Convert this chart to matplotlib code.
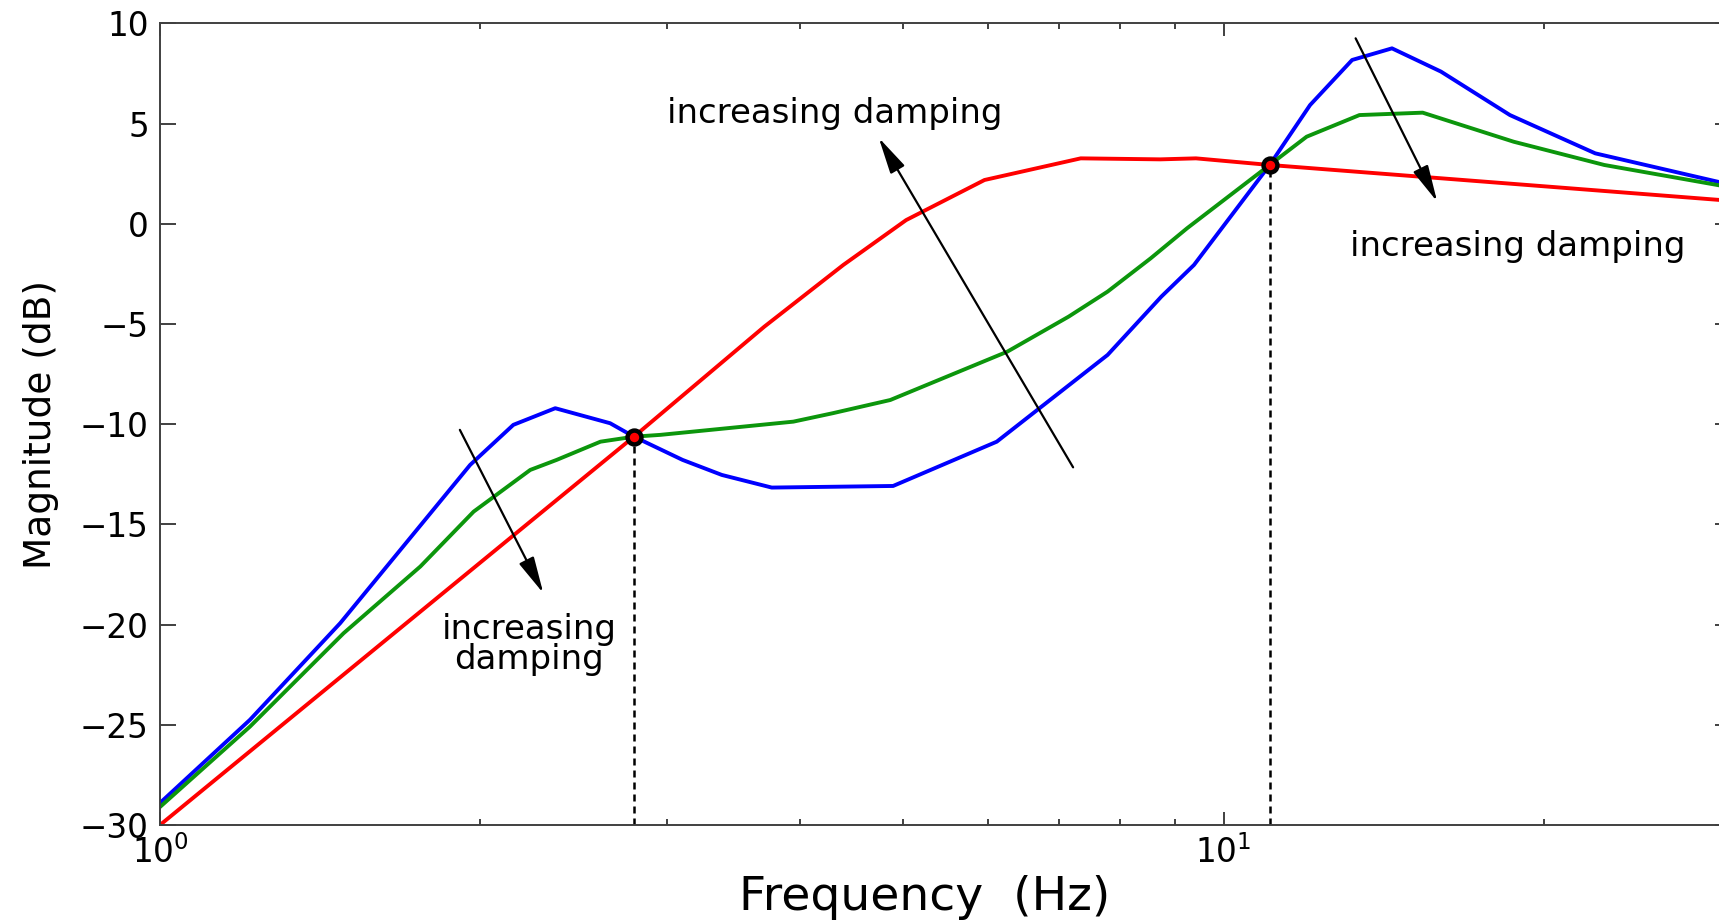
import matplotlib

matplotlib.use("Agg")
import matplotlib.pyplot as plt
from matplotlib.ticker import LogLocator, NullFormatter

# frequency response (Hz, dB)
blue_f = [1.0, 1.215, 1.477, 1.957, 2.149, 2.353, 2.65, 2.79, 3.10, 3.375, 3.76,
          4.89, 6.12, 7.78, 8.74, 9.38, 11.05, 12.06, 13.21, 14.40, 16.01, 18.59,
          22.36, 30.0]
blue_db = [-28.9, -24.75, -19.93, -12.03, -10.03, -9.2, -9.95, -10.62, -11.78, -12.53,
           -13.16, -13.08, -10.87, -6.54, -3.63, -2.05, 2.94, 5.93, 8.18, 8.76, 7.6,
           5.43, 3.52, 1.95]

green_f = [1.0, 1.215, 1.488, 1.757, 1.972, 2.229, 2.36, 2.595, 2.79, 2.954, 3.94,
           4.29, 4.86, 6.26, 7.15, 7.78, 8.54, 9.24, 11.05, 11.97, 13.42, 15.39, 18.74,
           22.8, 30.0]
green_db = [-29.1, -25.09, -20.43, -17.1, -14.36, -12.28, -11.78, -10.87, -10.62,
            -10.53, -9.87, -9.45, -8.79, -6.38, -4.63, -3.38, -1.72, -0.22, 2.94, 4.35,
            5.43, 5.55, 4.1, 2.94, 1.82]

red_f = [1.0, 2.79, 3.70, 4.39, 5.03, 5.96, 7.34, 8.72, 9.42, 11.05, 30.0]
red_db = [-30.0, -10.62, -5.13, -2.05, 0.19, 2.19, 3.27, 3.22, 3.27, 2.94, 1.15]

# crossing points of the three curves
cross_f = [2.79, 11.05]
cross_db = [-10.62, 2.94]

# arrows: (tail, head) in data coords
arrows = [((1.914, -10.28), (2.293, -18.43)),
          ((7.22, -12.15), (4.74, 4.3)),
          ((13.31, 9.26), (15.88, 1.11))]
labels = ["increasing\ndamping", "increasing damping", "increasing damping"]
label_pos = [(2.225, -21.0), (4.31, 5.5), (18.9, -1.15)]

y_ticks = [-30, -25, -20, -15, -10, -5, 0, 5, 10]

fig = plt.figure(figsize=(17.19, 9.21), dpi=100)
ax = fig.add_axes([160 / 1719, 1 - 825 / 921, 1571 / 1719, 801.5 / 921])

ax.plot(blue_f, blue_db, color="#0000ff", lw=2.8)
ax.plot(green_f, green_db, color="#0c960c", lw=2.8)
ax.plot(red_f, red_db, color="#ff0000", lw=2.8)

for fx, dbx in zip(cross_f, cross_db):
    ax.plot([fx, fx], [-30, dbx], color="k", lw=1.8, ls="--", dashes=(2.8, 2))
ax.plot(cross_f, cross_db, "o", ms=10, mfc="#ff0000", mec="k", mew=3.2, zorder=5)

for (tail, head) in arrows:
    ax.annotate("", xy=head, xytext=tail,
                arrowprops=dict(arrowstyle="-|>,head_length=0.9,head_width=0.2",
                                mutation_scale=25, color="k", lw=1.6,
                                shrinkA=0, shrinkB=0))

for txt, (tx, ty) in zip(labels, label_pos):
    ax.text(tx, ty, txt, fontsize=24.5, ha="center", va="center",
            linespacing=0.9, multialignment="center")

ax.set_xscale("log")
ax.set_xlim(1, 30)
ax.set_ylim(-30, 10)
ax.set_yticks(y_ticks)
ax.xaxis.set_major_locator(LogLocator(base=10))
ax.xaxis.set_minor_locator(LogLocator(base=10, subs=range(2, 10)))
ax.xaxis.set_minor_formatter(NullFormatter())

for sp in ax.spines.values():
    sp.set_color("#404040")
    sp.set_linewidth(1.4)

ax.tick_params(axis="both", which="both", direction="in", top=True, right=True,
               color="#404040", width=1.4)
ax.tick_params(axis="y", which="major", length=11.3, labelsize=23.5, pad=8)
ax.tick_params(axis="x", which="major", length=9.1, labelsize=23.5, pad=7)
ax.tick_params(axis="x", which="minor", length=4.3)

ax.set_xlabel("Frequency  (Hz)", fontsize=34, va="top")
ax.xaxis.set_label_coords(0.487, -0.062)
ax.set_ylabel("Magnitude (dB)", fontsize=27)
ax.yaxis.set_label_coords(-0.064, 0.5)

fig.savefig("out.png", dpi=100, facecolor="white")
